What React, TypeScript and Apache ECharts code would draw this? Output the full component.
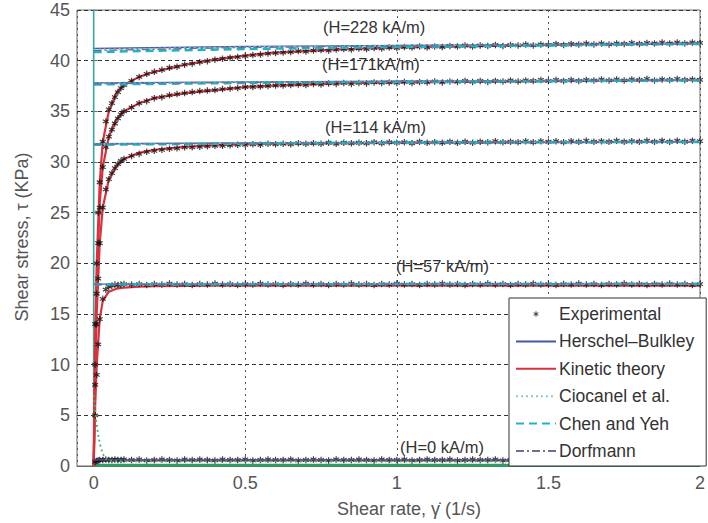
import React, { useEffect, useRef } from "react";
import * as echarts from "echarts";

// ---------- Data ----------
const X_MIN = -0.055;
const X_MAX = 2;
const Y_TICKS_MAX = 45;

// Shared shear-rate grid of the experimental points
const EXP_X = [
  0.005, 0.01, 0.015, 0.02, 0.03, 0.04, 0.05, 0.06, 0.07, 0.08, 0.09, 0.1,
  0.125, 0.15, 0.175, 0.2, 0.225, 0.25, 0.275, 0.3,
  0.325, 0.35, 0.375, 0.4, 0.425, 0.45, 0.475, 0.5,
  0.525, 0.55, 0.575, 0.6, 0.625, 0.65, 0.675, 0.7,
  0.725, 0.75, 0.775, 0.8, 0.825, 0.85, 0.875, 0.9,
  0.925, 0.95, 0.975, 1.0, 1.025, 1.05, 1.075, 1.1,
  1.125, 1.15, 1.175, 1.2, 1.225, 1.25, 1.275, 1.3,
  1.325, 1.35, 1.375, 1.4, 1.425, 1.45, 1.475, 1.5,
  1.525, 1.55, 1.575, 1.6, 1.625, 1.65, 1.675, 1.7,
  1.725, 1.75, 1.775, 1.8, 1.825, 1.85, 1.875, 1.9,
  1.925, 1.95, 1.975, 2.0,
];

const EXP_H228 = [
  14, 20, 25, 28, 32, 34, 35.2, 35.8, 36.4, 36.9, 37.3, 37.6,
  38.0, 38.4, 38.7, 38.9, 39.1, 39.3, 39.4, 39.6,
  39.7, 39.85, 39.95, 40.1, 40.2, 40.3, 40.35, 40.45,
  40.55, 40.6, 40.7, 40.75, 40.8, 40.85, 40.95, 40.9,
  41.0, 41.05, 41.0, 41.1, 41.15, 41.1, 41.2, 41.15,
  41.25, 41.2, 41.3, 41.25, 41.35, 41.3, 41.4, 41.3,
  41.4, 41.35, 41.45, 41.4, 41.5, 41.4, 41.5, 41.45,
  41.55, 41.45, 41.55, 41.5, 41.6, 41.5, 41.6, 41.55,
  41.65, 41.55, 41.65, 41.6, 41.7, 41.6, 41.7, 41.6,
  41.7, 41.65, 41.75, 41.65, 41.75, 41.7, 41.8, 41.7,
  41.8, 41.7, 41.8, 41.75,
];

const EXP_H171 = [
  10, 17, 22, 25.5, 29.5, 31.5, 32.5, 33.2, 33.8, 34.3, 34.7, 35.0,
  35.4, 35.8, 36.0, 36.3, 36.4, 36.6, 36.7, 36.8,
  36.9, 37.0, 37.05, 37.1, 37.2, 37.25, 37.3, 37.4,
  37.4, 37.45, 37.5, 37.55, 37.55, 37.6, 37.65, 37.6,
  37.7, 37.65, 37.75, 37.7, 37.8, 37.7, 37.8, 37.75,
  37.85, 37.8, 37.85, 37.8, 37.9, 37.8, 37.9, 37.85,
  37.95, 37.85, 37.95, 37.9, 38.0, 37.9, 38.0, 37.9,
  38.0, 37.95, 38.05, 37.95, 38.05, 38.0, 38.1, 38.0,
  38.1, 38.0, 38.1, 38.0, 38.1, 38.05, 38.15, 38.05,
  38.15, 38.05, 38.15, 38.1, 38.2, 38.05, 38.15, 38.1,
  38.2, 38.1, 38.15, 38.1,
];

const EXP_H114 = [
  8, 14, 18.5, 22, 25.5, 27.3, 28.3, 28.9, 29.4, 29.8, 30.1, 30.3,
  30.6, 30.8, 31.0, 31.1, 31.2, 31.3, 31.35, 31.45,
  31.45, 31.5, 31.55, 31.6, 31.6, 31.65, 31.7, 31.7,
  31.75, 31.7, 31.8, 31.75, 31.8, 31.75, 31.85, 31.8,
  31.85, 31.8, 31.9, 31.8, 31.9, 31.85, 31.9, 31.85,
  31.95, 31.85, 31.95, 31.9, 31.95, 31.85, 32.0, 31.9,
  31.95, 31.9, 32.0, 31.9, 32.0, 31.9, 32.0, 31.95,
  32.05, 31.95, 32.0, 31.95, 32.05, 31.95, 32.05, 32.0,
  32.05, 31.95, 32.05, 32.0, 32.1, 32.0, 32.05, 32.0,
  32.1, 32.0, 32.05, 32.0, 32.1, 32.0, 32.1, 32.0,
  32.1, 32.0, 32.1, 32.05,
];

const EXP_H57 = [
  5, 9, 12, 14.5, 16.5, 17.4, 17.7, 17.8, 17.9, 17.85, 17.9, 17.95,
  17.9, 17.95, 17.85, 17.95, 17.9, 18.0, 17.9, 17.95,
  17.85, 17.95, 17.9, 18.0, 17.9, 17.95, 17.85, 17.95,
  17.9, 18.0, 17.9, 17.95, 17.85, 17.95, 17.9, 18.0,
  17.9, 17.95, 17.85, 17.95, 17.9, 18.0, 17.9, 17.95,
  17.85, 17.95, 17.9, 18.0, 17.9, 17.95, 17.85, 17.95,
  17.9, 18.0, 17.9, 17.95, 17.85, 17.95, 17.9, 18.0,
  17.9, 17.95, 17.85, 17.95, 17.9, 18.0, 17.9, 17.95,
  17.85, 17.95, 17.9, 18.0, 17.9, 17.95, 17.85, 17.95,
  17.9, 18.0, 17.9, 17.95, 17.85, 17.95, 17.9, 18.0,
  17.9, 17.95, 17.85, 17.95,
];

const EXP_H0 = [
  0.4, 0.5, 0.55, 0.6, 0.6, 0.65, 0.6, 0.6, 0.65, 0.6, 0.6, 0.65,
  0.6, 0.65, 0.55, 0.6, 0.65, 0.6, 0.55, 0.65,
  0.6, 0.65, 0.6, 0.55, 0.65, 0.6, 0.6, 0.65,
  0.55, 0.6, 0.65, 0.6, 0.6, 0.65, 0.55, 0.6,
  0.65, 0.6, 0.55, 0.65, 0.6, 0.6, 0.65, 0.6,
  0.55, 0.65, 0.6, 0.6, 0.65, 0.55, 0.6, 0.65,
  0.6, 0.6, 0.65, 0.55, 0.6, 0.65, 0.6, 0.6,
  0.65, 0.55, 0.6, 0.65, 0.6, 0.6, 0.65, 0.55,
  0.6, 0.65, 0.6, 0.6, 0.65, 0.55, 0.6, 0.65,
  0.6, 0.6, 0.65, 0.55, 0.6, 0.65, 0.6, 0.6,
  0.65, 0.55, 0.6, 0.65,
];

// Kinetic theory model curves
const KT_X = [0, 0.005, 0.01, 0.02, 0.03, 0.05, 0.075, 0.1, 0.15, 0.2, 0.3, 0.4, 0.5, 0.6, 0.8, 1.0, 1.2, 1.4, 1.6, 1.8, 2.0];
const KT_H228 = [0, 13, 20, 28, 32, 35, 36.8, 37.6, 38.4, 38.9, 39.6, 40.1, 40.5, 40.8, 41.1, 41.3, 41.4, 41.5, 41.6, 41.65, 41.7];
const KT_H171 = [0, 10, 18, 26, 29.5, 32.5, 34.2, 35.0, 35.8, 36.3, 36.8, 37.1, 37.4, 37.55, 37.75, 37.85, 37.9, 37.95, 38.0, 38.05, 38.1];
const KT_H114 = [0, 8, 15, 22, 25.5, 28.3, 29.6, 30.3, 30.9, 31.2, 31.5, 31.65, 31.75, 31.8, 31.85, 31.9, 31.92, 31.95, 31.97, 31.99, 32.0];
const KT_H57 = [0, 6, 10, 14.5, 16.3, 17.2, 17.5, 17.6, 17.7, 17.75, 17.78, 17.8, 17.8, 17.8, 17.8, 17.8, 17.8, 17.8, 17.8, 17.8, 17.8];
const KT_H0 = [0, 0.3, 0.45, 0.5, 0.52, 0.55, 0.55, 0.55, 0.55, 0.55, 0.55, 0.55, 0.55, 0.55, 0.55, 0.55, 0.55, 0.55, 0.55, 0.55, 0.55];

// Yield-stress type model lines (x grid shared)
const MODEL_X = [0, 0.5, 1, 1.5, 2];
const HB_H228 = [41.2, 41.4, 41.5, 41.6, 41.72];
const HB_H171 = [37.8, 37.9, 37.98, 38.05, 38.1];
const HB_H114 = [31.8, 31.88, 31.93, 31.97, 32.0];
const HB_H57 = [17.95, 17.97, 17.98, 17.99, 18.0];
const HB_H0 = [0.6, 0.6, 0.6, 0.6, 0.6];

const CY_H228 = [40.85, 41.15, 41.35, 41.5, 41.65];
const CY_H171 = [37.65, 37.8, 37.9, 37.98, 38.05];
const CY_H114 = [31.7, 31.82, 31.9, 31.95, 31.98];
const CY_H57 = [17.9, 17.93, 17.95, 17.97, 17.98];

const DF_H228 = [41.0, 41.3, 41.45, 41.55, 41.68];
const DF_H171 = [37.72, 37.85, 37.95, 38.02, 38.08];
const DF_H114 = [31.75, 31.85, 31.92, 31.96, 31.99];
const DF_H57 = [17.92, 17.95, 17.97, 17.98, 17.99];

const CI_H228 = [41.1, 41.35, 41.48, 41.58, 41.7];
const CI_H171 = [37.75, 37.88, 37.96, 38.03, 38.09];
const CI_H114 = [31.78, 31.87, 31.92, 31.96, 32.0];
const CI_H57 = [17.93, 17.96, 17.97, 17.98, 17.99];
// Ciocanel H = 0 decay near the origin
const CI0_X = [0, 0.01, 0.02, 0.03, 0.04, 0.06, 0.1, 2];
const CI0_Y = [7, 4, 2.2, 1.2, 0.7, 0.5, 0.45, 0.45];

const ANNOTATIONS = ["(H=228 kA/m)", "(H=171kA/m)", "(H=114 kA/m)", "(H=57 kA/m)", "(H=0 kA/m)"];
const X_LABELS = [0, 0.5, 1, 1.5, 2];

const LEGEND_NAMES = ["Experimental", "Herschel–Bulkley", "Kinetic theory", "Ciocanel et al.", "Chen and Yeh", "Dorfmann"];

const zip = (xs: number[], ys: number[]) => xs.map((x, i) => [x, ys[i]]);

const STAR_D =
  "M4.1 0H5.9V10H4.1Z M1.1 1.7L9.8 6.7L8.9 8.3L0.2 3.3Z M0.2 6.7L8.9 1.7L9.8 3.3L1.1 8.3Z";
const STAR = "path://" + STAR_D;
// small star for the legend: padded bounding box so it draws smaller
const STAR_LEGEND = "path://" + STAR_D + " M-8 -8L-8 -8Z M18 18L18 18Z";

const FONT = "'Liberation Sans', Arial, sans-serif";

export default function App() {
  const ref = useRef<HTMLDivElement>(null);
  useEffect(() => {
    if (!ref.current) return;
    const chart = echarts.init(ref.current, undefined, { renderer: "svg" });

    const lineSeries = (name: string, data: number[][], style: any, z = 2) => ({
      name,
      type: "line",
      data,
      symbol: "none",
      showSymbol: false,
      smooth: false,
      lineStyle: style,
      itemStyle: { color: style.color },
      z,
      silent: true,
    });

    const ktStyle = { color: "#d8323f", width: 2.2, type: "solid" };
    const hbStyle = { color: "#4657a6", width: 1.3, type: "solid" };
    const ciStyle = { color: "#86cfc5", width: 1.6, type: [2, 3] };
    const cyStyle = { color: "#1fb4c6", width: 2.5, type: [8, 5] };
    const dfStyle = { color: "#6a7196", width: 1.3, type: [8, 3, 2, 3] };

    const expAll: number[][] = [
      ...zip(EXP_X, EXP_H228),
      ...zip(EXP_X, EXP_H171),
      ...zip(EXP_X, EXP_H114),
      ...zip(EXP_X, EXP_H57),
      ...zip(EXP_X, EXP_H0),
    ];

    const series: any[] = [
      lineSeries("vline", [[0, 0], [0, Y_TICKS_MAX]], { color: "#35a7a0", width: 1.6, type: "solid" }, 1),
      lineSeries("base0", [[0, 0.08], [X_MAX, 0.08]], { color: "#2e9e62", width: 3, type: "solid" }, 1),
      lineSeries("Kinetic theory", zip(KT_X, KT_H228), ktStyle),
      lineSeries("Kinetic theory", zip(KT_X, KT_H171), ktStyle),
      lineSeries("Kinetic theory", zip(KT_X, KT_H114), ktStyle),
      lineSeries("Kinetic theory", zip(KT_X, KT_H57), ktStyle),
      lineSeries("Kinetic theory", zip(KT_X, KT_H0), ktStyle),
      {
        name: "Experimental",
        type: "scatter",
        data: expAll,
        symbol: STAR,
        symbolSize: 6.5,
        itemStyle: { color: "#111" },
        z: 3,
        silent: true,
      },
      lineSeries("Herschel–Bulkley", zip(MODEL_X, HB_H228), hbStyle, 4),
      lineSeries("Herschel–Bulkley", zip(MODEL_X, HB_H171), hbStyle, 4),
      lineSeries("Herschel–Bulkley", zip(MODEL_X, HB_H114), hbStyle, 4),
      lineSeries("Herschel–Bulkley", zip(MODEL_X, HB_H57), hbStyle, 4),
      lineSeries("Herschel–Bulkley", zip(MODEL_X, HB_H0), hbStyle, 4),
      lineSeries("Ciocanel et al.", zip(MODEL_X, CI_H228), ciStyle, 4),
      lineSeries("Ciocanel et al.", zip(MODEL_X, CI_H171), ciStyle, 4),
      lineSeries("Ciocanel et al.", zip(MODEL_X, CI_H114), ciStyle, 4),
      lineSeries("Ciocanel et al.", zip(MODEL_X, CI_H57), ciStyle, 4),
      lineSeries("Ciocanel et al.", zip(CI0_X, CI0_Y), { color: "#3cb371", width: 1.8, type: [2, 3] }, 4),
      lineSeries("Chen and Yeh", zip(MODEL_X, CY_H228), cyStyle, 4),
      lineSeries("Chen and Yeh", zip(MODEL_X, CY_H171), cyStyle, 4),
      lineSeries("Chen and Yeh", zip(MODEL_X, CY_H114), cyStyle, 4),
      lineSeries("Chen and Yeh", zip(MODEL_X, CY_H57), cyStyle, 4),
      lineSeries("Dorfmann", zip(MODEL_X, DF_H228), dfStyle, 4),
      lineSeries("Dorfmann", zip(MODEL_X, DF_H171), dfStyle, 4),
      lineSeries("Dorfmann", zip(MODEL_X, DF_H114), dfStyle, 4),
      lineSeries("Dorfmann", zip(MODEL_X, DF_H57), dfStyle, 4),
    ];

    const annPos = [
      [323, 28],
      [322, 65],
      [325, 128],
      [396, 267],
      [400, 448],
    ];

    chart.setOption({
      animation: false,
      backgroundColor: "#ffffff",
      textStyle: { fontFamily: FONT },
      grid: {
        left: 77,
        right: 6,
        top: 10,
        bottom: 57,
        show: true,
        borderColor: "#6b6b6b",
        borderWidth: 1,
        backgroundColor: "transparent",
      },
      xAxis: {
        type: "value",
        min: X_MIN,
        max: X_MAX,
        splitNumber: 4,
        axisLine: { show: true, onZero: false, lineStyle: { color: "#6b6b6b" } },
        axisTick: { show: true, inside: true, length: 4, lineStyle: { color: "#6b6b6b" } },
        axisLabel: {
          color: "#555",
          fontSize: 18,
          fontFamily: FONT,
          margin: 8,
          showMinLabel: false,
          formatter: (v: number) => (X_LABELS.some((t) => Math.abs(t - v) < 1e-9) ? String(v) : ""),
        },
        splitLine: { show: true, lineStyle: { color: "#555", type: [2, 4], width: 1 } },
      },
      yAxis: {
        type: "value",
        min: 0,
        max: Y_TICKS_MAX,
        interval: 5,
        axisLine: { show: true, lineStyle: { color: "#6b6b6b" } },
        axisTick: { show: true, inside: true, length: 4, lineStyle: { color: "#6b6b6b" } },
        axisLabel: { color: "#555", fontSize: 18, fontFamily: FONT, margin: 7 },
        splitLine: { show: true, lineStyle: { color: "#333", type: [4, 3], width: 1 } },
      },
      legend: {
        data: LEGEND_NAMES.map((n, i) =>
          i === 0 ? { name: n, icon: STAR_LEGEND } : { name: n, itemStyle: { opacity: 0 } }
        ),
        orient: "vertical",
        left: 509,
        top: 298,
        itemWidth: 40,
        itemHeight: 14,
        itemGap: 9.4,
        padding: [7, 12, 6, 6],
        backgroundColor: "#ffffff",
        borderColor: "#333",
        borderWidth: 1,
        borderRadius: 0,
        selectedMode: false,
        textStyle: { color: "#333", fontSize: 17.5, fontFamily: FONT, padding: [0, 0, 0, -2] },
        z: 10,
      },
      graphic: [
        ...ANNOTATIONS.map((t, i) => ({
          type: "text",
          left: annPos[i][0],
          top: annPos[i][1] - 10,
          z: 20,
          style: { text: t, fill: "#333", fontSize: 16.5, fontFamily: FONT },
        })),
        {
          type: "text",
          x: 22,
          y: 237,
          rotation: Math.PI / 2,
          z: 20,
          style: {
            text: "Shear stress, τ (KPa)",
            fill: "#555",
            fontSize: 18,
            fontFamily: FONT,
            align: "center",
            verticalAlign: "middle",
          },
        },
        {
          type: "text",
          x: 409,
          y: 509,
          z: 20,
          style: {
            text: "Shear rate, γ̇ (1/s)",
            fill: "#555",
            fontSize: 18,
            fontFamily: FONT,
            align: "center",
            verticalAlign: "middle",
          },
        },
      ],
      series,
    });

    return () => chart.dispose();
  }, []);

  return <div ref={ref} style={{ position: "fixed", left: 0, top: 0, width: 708, height: 523 }} />;
}
